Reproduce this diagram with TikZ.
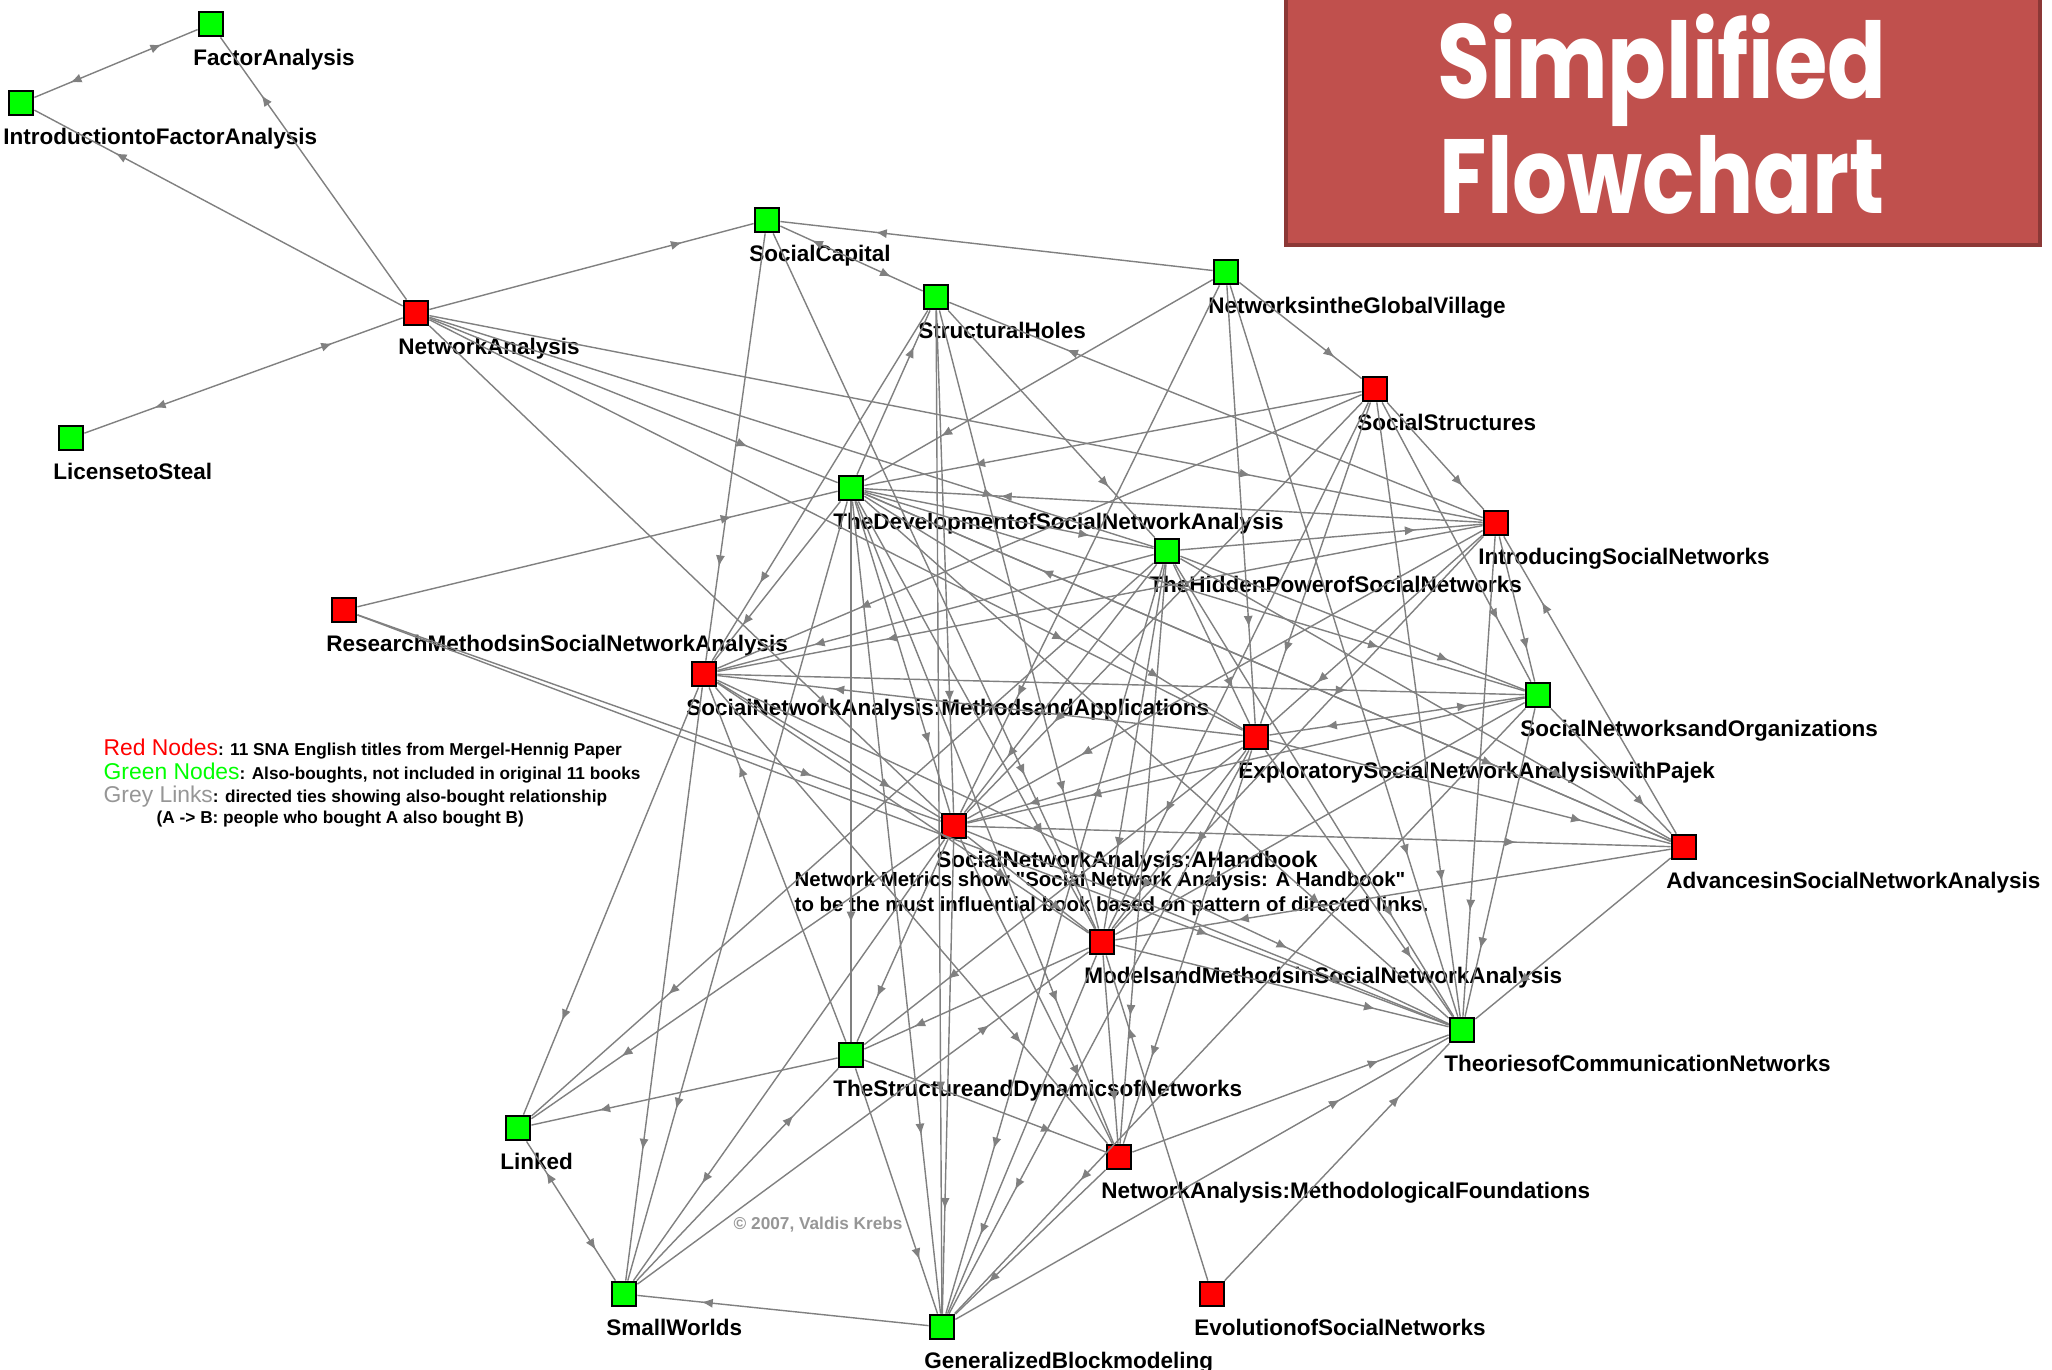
\documentclass[tikz,border=0pt]{standalone}
\usepackage{fontspec}
\setmainfont{Liberation Sans}
\newfontfamily\titlefont{Poppins}[FakeStretch=0.82]
\usepackage{tikz}
\usetikzlibrary{arrows.meta,decorations.markings,positioning}

\definecolor{boxred}{RGB}{192,80,77}
\definecolor{boxedge}{RGB}{140,56,54}
\definecolor{tiegray}{RGB}{128,128,128}
\definecolor{nodegreen}{RGB}{0,255,0}
\definecolor{nodered}{RGB}{255,0,0}
\definecolor{keygray}{RGB}{150,150,150}

\tikzset{
  book/.style={draw=black,line width=0.8pt,minimum size=0.24cm,inner sep=0pt},
  redbook/.style={book,fill=nodered},
  greenbook/.style={book,fill=nodegreen},
  lbl/.style={font=\fontsize{6.4}{7}\selectfont\bfseries,inner sep=0pt,anchor=north west,xshift=-0.05cm,yshift=-0.11cm},
  tiebase/.style={draw=tiegray,line width=0.4pt,postaction={decorate}},
  tie/.style={tiebase,decoration={markings,
      mark=at position 0.78 with {\arrow{Latex[length=3.2pt,width=2.6pt,color=tiegray]}}}},
  bitie/.style={tiebase,decoration={markings,
      mark=at position 0.22 with {\arrowreversed{Latex[length=3.2pt,width=2.6pt,color=tiegray]}},
      mark=at position 0.78 with {\arrow{Latex[length=3.2pt,width=2.6pt,color=tiegray]}}}},
}

\begin{document}
\begin{tikzpicture}[x=0.01cm,y=-0.01cm]
\useasboundingbox (0,0) rectangle (2052,1369);

% Title box
\fill[boxred,draw=boxedge,line width=1.2pt] (1286,-20) rectangle (2040,245);
\node[font={\titlefont\bfseries\fontsize{30}{32.6}\selectfont},text=white,align=center] (title) at (1662,114) {Simplified\\Flowchart};

% Books
\node[greenbook] (fa) at (211,24) {};
\node[lbl] (fa-l) at (fa.south west) {FactorAnalysis};
\node[greenbook] (ifa) at (21,103) {};
\node[lbl] (ifa-l) at (ifa.south west) {IntroductiontoFactorAnalysis};
\node[redbook] (na) at (416,313) {};
\node[lbl] (na-l) at (na.south west) {NetworkAnalysis};
\node[greenbook] (lts) at (71,438) {};
\node[lbl] (lts-l) at (lts.south west) {LicensetoSteal};
\node[greenbook] (sc) at (767,220) {};
\node[lbl] (sc-l) at (sc.south west) {SocialCapital};
\node[greenbook] (sh) at (936,297) {};
\node[lbl] (sh-l) at (sh.south west) {StructuralHoles};
\node[greenbook] (ngv) at (1226,272) {};
\node[lbl] (ngv-l) at (ngv.south west) {NetworksintheGlobalVillage};
\node[redbook] (ss) at (1375,389) {};
\node[lbl] (ss-l) at (ss.south west) {SocialStructures};
\node[greenbook] (tdsna) at (851,488) {};
\node[lbl] (tdsna-l) at (tdsna.south west) {TheDevelopmentofSocialNetworkAnalysis};
\node[redbook] (isn) at (1496,523) {};
\node[lbl] (isn-l) at (isn.south west) {IntroducingSocialNetworks};
\node[greenbook] (thp) at (1167,551) {};
\node[lbl] (thp-l) at (thp.south west) {TheHiddenPowerofSocialNetworks};
\node[redbook] (rm) at (344,610) {};
\node[lbl] (rm-l) at (rm.south west) {ResearchMethodsinSocialNetworkAnalysis};
\node[redbook] (snama) at (704,674) {};
\node[lbl] (snama-l) at (snama.south west) {SocialNetworkAnalysis:MethodsandApplications};
\node[greenbook] (sno) at (1538,695) {};
\node[lbl] (sno-l) at (sno.south west) {SocialNetworksandOrganizations};
\node[redbook] (esna) at (1256,737) {};
\node[lbl] (esna-l) at (esna.south west) {ExploratorySocialNetworkAnalysiswithPajek};
\node[redbook] (snah) at (954,826) {};
\node[lbl] (snah-l) at (snah.south west) {SocialNetworkAnalysis:AHandbook};
\node[redbook] (asna) at (1684,847) {};
\node[lbl] (asna-l) at (asna.south west) {AdvancesinSocialNetworkAnalysis};
\node[redbook] (mmsna) at (1102,942) {};
\node[lbl] (mmsna-l) at (mmsna.south west) {ModelsandMethodsinSocialNetworkAnalysis};
\node[greenbook] (tcn) at (1462,1030) {};
\node[lbl] (tcn-l) at (tcn.south west) {TheoriesofCommunicationNetworks};
\node[greenbook] (tsdn) at (851,1055) {};
\node[lbl] (tsdn-l) at (tsdn.south west) {TheStructureandDynamicsofNetworks};
\node[greenbook] (lk) at (518,1128) {};
\node[lbl] (lk-l) at (lk.south west) {Linked};
\node[redbook] (namf) at (1119,1157) {};
\node[lbl] (namf-l) at (namf.south west) {NetworkAnalysis:MethodologicalFoundations};
\node[greenbook] (sw) at (624,1294) {};
\node[lbl] (sw-l) at (sw.south west) {SmallWorlds};
\node[greenbook] (gb) at (942,1327) {};
\node[lbl] (gb-l) at (gb.south west) {GeneralizedBlockmodeling};
\node[redbook] (esn) at (1212,1294) {};
\node[lbl] (esn-l) at (esn.south west) {EvolutionofSocialNetworks};

% Key and notes
\node[anchor=west,inner sep=0pt] (key-red) at (103,749) {{\fontsize{6.5}{7}\selectfont\color{nodered}Red Nodes}{\fontsize{4.9}{6}\selectfont\bfseries: 11 SNA English titles from Mergel-Hennig Paper}};
\node[anchor=west,inner sep=0pt] (key-green) at (103,773) {{\fontsize{6.5}{7}\selectfont\color{nodegreen}Green Nodes}{\fontsize{4.9}{6}\selectfont\bfseries: Also-boughts, not included in original 11 books}};
\node[anchor=west,inner sep=0pt] (key-gray) at (103,797) {{\fontsize{6.5}{7}\selectfont\color{keygray}Grey Links}{\fontsize{4.9}{6}\selectfont\bfseries: directed ties showing also-bought relationship}};
\node[anchor=west,inner sep=0pt,font=\fontsize{4.9}{6}\selectfont\bfseries] (key-ab) at (156,819) {(A -> B: people who bought A also bought B)};
\node[anchor=west,align=left,inner sep=0pt,font=\fontsize{5.8}{7.1}\selectfont\bfseries] (note) at (794,894) {Network Metrics show \textquotedbl Social Network Analysis: A Handbook\textquotedbl\\to be the must influential book based on pattern of directed links.};
\node[anchor=west,inner sep=0pt,text=keygray,font=\fontsize{4.9}{6}\selectfont\bfseries] (credit) at (733,1225) {© 2007, Valdis Krebs};

% Network Analysis corner
\draw[bitie] (ifa) -- (fa);
\draw[tie] (na) -- (fa);
\draw[tie] (na) -- (ifa);
\draw[bitie] (lts) -- (na);
\draw[tie] (na) -- (sc);
\draw[tie] (na) -- (isn);
\draw[tie] (na) -- (tdsna);
\draw[tie] (na) -- (thp);
\draw[tie] (na) -- (esna);
\draw[tie] (na) -- (snah);
% Social Capital
\draw[tie] (ngv) -- (sc);
\draw[bitie] (sc) -- (sh);
\draw[tie] (sc) -- (snama);
\draw[tie] (sc) -- (mmsna);
% Structural Holes
\draw[tie] (tdsna) -- (sh);
\draw[tie] (sh) -- (snama);
\draw[tie] (isn) -- (sh);
\draw[tie] (sh) -- (thp);
\draw[tie] (sh) -- (gb);
\draw[tie] (sh) -- (mmsna);
\draw[tie] (sh) -- (snah);
% Global Village
\draw[tie] (ngv) -- (tdsna);
\draw[tie] (ngv) -- (snah);
\draw[tie] (ngv) -- (esna);
\draw[tie] (ngv) -- (ss);
\draw[tie] (ngv) -- (tcn);
% Social Structures
\draw[tie] (ss) -- (tdsna);
\draw[tie] (ss) -- (isn);
\draw[tie] (ss) -- (sno);
\draw[tie] (ss) -- (esna);
\draw[tie] (ss) -- (snah);
\draw[tie] (ss) -- (mmsna);
\draw[tie] (ss) -- (tcn);
\draw[tie] (ss) -- (snama);
% Introducing Social Networks
\draw[tie] (isn) -- (tdsna);
\draw[tie] (thp) -- (isn);
\draw[tie] (isn) -- (sno);
\draw[tie] (isn) -- (snama);
\draw[tie] (isn) -- (snah);
\draw[tie] (isn) -- (esna);
\draw[tie] (isn) -- (tcn);
\draw[tie] (asna) -- (isn);
\draw[tie] (isn) -- (mmsna);
% Hidden Power
\draw[tie] (tdsna) -- (thp);
\draw[tie] (thp) -- (snama);
\draw[tie] (thp) -- (snah);
\draw[tie] (thp) -- (esna);
\draw[tie] (thp) -- (sno);
\draw[tie] (thp) -- (asna);
\draw[tie] (thp) -- (tcn);
\draw[tie] (thp) -- (mmsna);
\draw[tie] (thp) -- (gb);
\draw[tie] (thp) -- (namf);
\draw[tie] (thp) -- (lk);
% Development of SNA
\draw[tie] (rm) -- (tdsna);
\draw[tie] (tdsna) -- (snama);
\draw[tie] (tdsna) -- (snah);
\draw[tie] (tdsna) -- (esna);
\draw[tie] (tdsna) -- (sno);
\draw[tie] (tdsna) -- (asna);
\draw[tie] (tdsna) -- (mmsna);
\draw[tie] (tdsna) -- (tcn);
\draw[tie] (tdsna) -- (tsdn);
\draw[tie] (tdsna) -- (gb);
\draw[tie] (tdsna) -- (namf);
\draw[tie] (tdsna) -- (sw);
% Research Methods
\draw[tie] (rm) -- (snah);
\draw[tie] (rm) -- (tcn);
% Methods and Applications
\draw[tie] (esna) -- (snama);
\draw[tie] (snama) -- (snah);
\draw[tie] (snama) -- (lk);
\draw[tie] (snama) -- (sw);
\draw[tie] (tsdn) -- (snama);
\draw[tie] (snama) -- (mmsna);
\draw[tie] (snama) -- (namf);
\draw[tie] (snama) -- (sno);
\draw[tie] (snama) -- (tcn);
% Social Networks and Organizations
\draw[bitie] (sno) -- (esna);
\draw[tie] (sno) -- (snah);
\draw[tie] (sno) -- (tcn);
\draw[tie] (sno) -- (asna);
\draw[tie] (sno) -- (mmsna);
\draw[tie] (sno) -- (gb);
% Exploratory SNA with Pajek
\draw[tie] (esna) -- (snah);
\draw[tie] (esna) -- (asna);
\draw[tie] (esna) -- (tcn);
\draw[tie] (esna) -- (mmsna);
\draw[tie] (esna) -- (gb);
\draw[tie] (esna) -- (namf);
\draw[tie] (esna) -- (tsdn);
% Handbook
\draw[tie] (snah) -- (asna);
\draw[tie] (snah) -- (mmsna);
\draw[tie] (snah) -- (tcn);
\draw[tie] (snah) -- (namf);
\draw[tie] (snah) -- (tsdn);
\draw[tie] (snah) -- (lk);
\draw[tie] (snah) -- (sw);
\draw[tie] (snah) -- (gb);
% Advances
\draw[tie] (asna) -- (mmsna);
\draw[tie] (asna) -- (tcn);
\draw[tie] (asna) -- (tdsna);
% Models and Methods
\draw[tie] (mmsna) -- (tcn);
\draw[tie] (mmsna) -- (tsdn);
\draw[tie] (mmsna) -- (namf);
\draw[tie] (mmsna) -- (gb);
\draw[tie] (sw) -- (mmsna);
\draw[tie] (esn) -- (mmsna);
% Theories and the bottom row
\draw[tie] (namf) -- (tcn);
\draw[tie] (gb) -- (tcn);
\draw[tie] (esn) -- (tcn);
\draw[tie] (tsdn) -- (lk);
\draw[tie] (tsdn) -- (namf);
\draw[tie] (tsdn) -- (gb);
\draw[tie] (sw) -- (tsdn);
\draw[bitie] (lk) -- (sw);
\draw[tie] (gb) -- (sw);
\draw[tie] (namf) -- (gb);
\end{tikzpicture}
\end{document}
